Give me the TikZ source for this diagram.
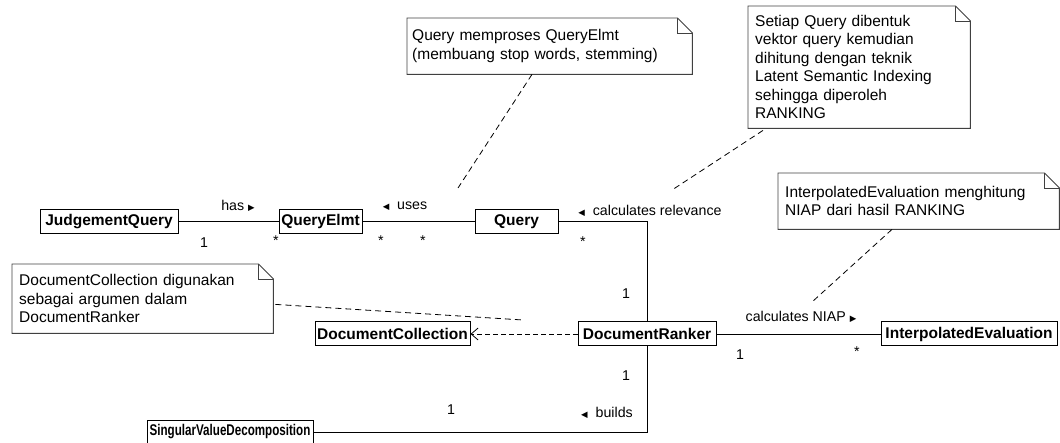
\documentclass[tikz,border=0pt]{standalone}
\usepackage{fontspec}
\usepackage{graphicx}
\setmainfont{Liberation Sans}
\newfontfamily\symfont{DejaVu Sans}
\usetikzlibrary{arrows.meta}

\newcommand{\rtri}{{\symfont\fontsize{8.5}{10}\selectfont ▶}}
\newcommand{\ltri}{{\symfont\fontsize{8.5}{10}\selectfont ◀}}

\begin{document}
\begin{tikzpicture}[x=1pt,y=-1pt,
  umlclass/.style={draw=black, line width=1pt, fill=white, inner sep=0pt,
    minimum height=24pt, font=\fontsize{15.5}{17}\selectfont\bfseries},
  umlnote/.style={anchor=north west, align=left, inner xsep=7pt, inner ysep=2pt,
    font=\fontsize{15.5}{18.5}\selectfont},
  noteline/.style={draw=black!75, line width=0.9pt},
  assoc/.style={draw=black, line width=0.9pt},
  notelink/.style={draw=black, line width=0.8pt, dash pattern=on 6pt off 4pt},
  lbl/.style={inner sep=0pt, font=\fontsize{14.2}{16}\selectfont},
  mult/.style={inner sep=0pt, font=\fontsize{14.2}{16}\selectfont}]

\useasboundingbox (0,0) rectangle (1060,443);

% classes
\node[umlclass, minimum width=138pt] (jq)  at (109,221.5)   {JudgementQuery};
\node[umlclass, minimum width=83pt]  (qe)  at (320.5,221.5) {QueryElmt};
\node[umlclass, minimum width=83pt]  (q)   at (516.5,221.5) {Query};
\node[umlclass, minimum width=138pt] (dr)  at (647,334)   {DocumentRanker};
\node[umlclass, minimum width=176pt] (ie)  at (969,334)   {InterpolatedEvaluation};
\node[umlclass, minimum width=155pt] (dc)  at (392.5,334) {DocumentCollection};
\node[umlclass, minimum width=166pt, minimum height=23pt] (svd) at (230,432)
  {\scalebox{0.75}[1]{SingularValueDecomposition}};

% associations
\draw[assoc] (jq.east) -- (qe.west);
\draw[assoc] (qe.east) -- (q.west);
\draw[assoc] (q.east) -| (dr.north);
\draw[assoc] (dr.east) -- (ie.west);
\draw[assoc] (dr.south) |- (svd.east);
\draw[draw=black, line width=0.8pt, dash pattern=on 5pt off 3pt,
      -{Straight Barb[length=7pt,width=12pt]}] (dr.west) -- (dc.east);

% association names
\node[lbl] (lhas)  at (238,206) {has \rtri};
\node[lbl] (luses) at (405,206) {\ltri\ \ uses};
\node[lbl] (lrel)  at (650,211) {\ltri\ \ calculates relevance};
\node[lbl] (lniap) at (801,317) {calculates NIAP \rtri};
\node[lbl] (lbld)  at (607,413) {\ltri\ \ builds};

% multiplicities
\node[mult] (m1) at (204,243) {1};
\node[mult] (m2) at (276,241) {*};
\node[mult] (m3) at (381,241) {*};
\node[mult] (m4) at (423,241) {*};
\node[mult] (m5) at (583,242) {*};
\node[mult] (m6) at (626,294) {1};
\node[mult] (m7) at (740,355) {1};
\node[mult] (m8) at (857,352) {*};
\node[mult] (m9) at (626,376) {1};
\node[mult] (m10) at (451,410) {1};

% notes
\node[umlnote, inner xsep=5pt, text width=275pt, minimum height=56pt] (na) at (407,18)
  {Query memproses QueryElmt\\(membuang stop words, stemming)};
\node[umlnote, text width=208pt, minimum height=122pt] (nb) at (748,6)
  {Setiap Query dibentuk\\vektor query kemudian\\dihitung dengan teknik\\Latent Semantic Indexing\\sehingga diperoleh\\RANKING};
\node[umlnote, text width=267pt, minimum height=56pt] (nc) at (778,173)
  {InterpolatedEvaluation menghitung\\NIAP dari hasil RANKING};
\node[umlnote, text width=247pt, minimum height=69pt] (nd) at (12,264)
  {DocumentCollection digunakan\\sebagai argumen dalam\\DocumentRanker};

\foreach \n in {na,nb,nc,nd}{
  \draw[noteline] (\n.north west) -- ([xshift=-15pt]\n.north east)
    -- ([yshift=-15pt]\n.north east) -- (\n.south east) -- (\n.south west) -- cycle;
  \draw[noteline] ([xshift=-15pt]\n.north east) |- ([yshift=-15pt]\n.north east);
}

% note links
\coordinate (ea) at (458,188);
\coordinate (eb) at (672,190);
\coordinate (ec) at (812,302);
\coordinate (ed) at (523,320);
\draw[notelink] (na.south west) ++(125,0) -- (ea);
\draw[notelink] (nb.south west) ++(15,2) -- (eb);
\draw[notelink] (nc.south west) ++(114,0) -- (ec);
\draw[notelink] (nd.south east) ++(2,-29) -- (ed);
\end{tikzpicture}
\end{document}
